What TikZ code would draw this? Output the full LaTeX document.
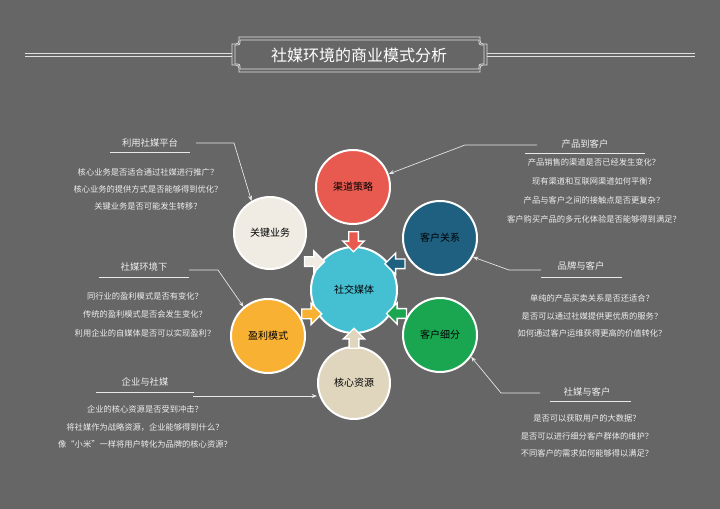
\documentclass[tikz,border=0pt]{standalone}
\usepackage{fontspec}
\setmainfont{Noto Sans CJK SC}
\usetikzlibrary{shapes.arrows,calc,arrows.meta}
\definecolor{bg}{HTML}{666666}
\definecolor{cred}{HTML}{E85A4F}
\definecolor{cblue}{HTML}{1F5F80}
\definecolor{cgreen}{HTML}{1AA550}
\definecolor{cbeige}{HTML}{E0D6BE}
\definecolor{corange}{HTML}{F8B133}
\definecolor{ccream}{HTML}{F0ECE3}
\definecolor{ccyan}{HTML}{45C0D2}
\definecolor{txt}{HTML}{EEEEEE}
\tikzset{
 bub/.style={circle,draw=white,line width=1.5pt,minimum size=55.5pt,font=\fontsize{7.5}{9}\selectfont,text=black,inner sep=0},
 barrow/.style={single arrow,draw=white,line width=1pt,minimum height=15pt,minimum width=16pt,single arrow head extend=3pt,inner sep=2pt},
 lead/.style={draw=white!85!bg,line width=0.5pt,-{Stealth[length=4pt,width=3pt]}},
 head/.style={font=\fontsize{7}{8}\selectfont,text=txt},
 q/.style={font=\fontsize{6.2}{7}\selectfont,text=txt},
 uline/.style={draw=white!85!bg,line width=0.5pt}
}
\begin{document}
\begin{tikzpicture}[x=0.75pt,y=-0.75pt]
\fill[bg] (0,0) rectangle (720,509);
\useasboundingbox (0,0) rectangle (720,509);
% title
\draw[white!80!bg,line width=0.5pt] (25,53)--(232,53) (25,56)--(232,56) (487,53)--(695,53) (487,56)--(695,56);
\foreach \o/\r in {0/7,3/5}{
\draw[white!80!bg,line width=0.6pt] ({232+\o+\r},{37+\o}) -- ({487-\o-\r},{37+\o}) .. controls ({487-\o-\r},{37+\o+\r}) .. ({487-\o},{37+\o+\r})
 -- ({487-\o},{72-\o-\r}) .. controls ({487-\o-\r},{72-\o-\r}) .. ({487-\o-\r},{72-\o})
 -- ({232+\o+\r},{72-\o}) .. controls ({232+\o+\r},{72-\o-\r}) .. ({232+\o},{72-\o-\r})
 -- ({232+\o},{37+\o+\r}) .. controls ({232+\o+\r},{37+\o+\r}) .. cycle;}
\node[font=\fontsize{12}{14}\selectfont,text=white] (title) at (359,55) {社媒环境的商业模式分析};
% bubbles
\node[bub,fill=ccyan,minimum size=64.5pt] (c) at (354,290) {社交媒体};
\node[bub,fill=cred] (o1) at (353,187) {渠道策略};
\node[bub,fill=cblue] (o2) at (440,238) {客户关系};
\node[bub,fill=cgreen] (o3) at (440,335) {客户细分};
\node[bub,fill=cbeige,minimum size=54pt] (o4) at (354,383) {核心资源};
\node[bub,fill=corange] (o5) at (268,336) {盈利模式};
\node[bub,fill=ccream,minimum size=54pt] (o6) at (270,233) {关键业务};
% block arrows
\foreach \o/\a/\col in {o1/270/cred,o2/211/cblue,o3/152/cgreen,o4/90/cbeige,o5/28/corange,o6/-34/ccream}{
 \node[barrow,fill=\col,shape border rotate=\a] (a\o) at ($(c)!38pt!(\o)$) {};}
% left groups
\node[head] (h1) at (150,143) {利用社媒平台};
\draw[uline] (110,152)--(190,152);
\coordinate (p1) at (196,143);
\draw[lead] (p1) -- (234,143) -- (o6.120);
\node[q] (q11) at (148,172) {核心业务是否适合通过社媒进行推广？};
\node[q] (q12) at (148,189) {核心业务的提供方式是否能够得到优化？};
\node[q] (q13) at (148,206) {关键业务是否可能发生转移？};

\node[head] (h2) at (144,267) {社媒环境下};
\draw[uline] (99,277)--(189,277);
\coordinate (p2) at (189,270);
\draw[lead] (p2) -- (218,270) -- (o5.130);
\node[q] (q21) at (145,296) {同行业的盈利模式是否有变化？};
\node[q] (q22) at (145,314) {传统的盈利模式是否会发生变化？};
\node[q] (q23) at (145,333) {利用企业的自媒体是否可以实现盈利？};

\node[head] (h3) at (145,382) {企业与社媒};
\draw[uline] (96,392)--(194,392);
\coordinate (p3) at (193,396);
\draw[lead] (p3) -- (o4.west|-p3);
\node[q] (q31) at (145,409) {企业的核心资源是否受到冲击？};
\node[q] (q32) at (145,427) {将社媒作为战略资源，企业能够得到什么？};
\node[q] (q33) at (145,444) {像“小米”一样将用户转化为品牌的核心资源？};
% right groups
\node[head] (h4) at (585,144) {产品到客户};
\draw[uline] (525,153)--(645,153);
\coordinate (p4) at (537,145);
\draw[lead] (p4) -- (465,145) -- (o1.20);
\node[q] (q41) at (594,162) {产品销售的渠道是否已经发生变化？};
\node[q] (q42) at (594,181) {现有渠道和互联网渠道如何平衡？};
\node[q] (q43) at (594,200) {产品与客户之间的接触点是否更复杂？};
\node[q] (q44) at (594,219) {客户购买产品的多元化体验是否能够得到满足？};

\node[head] (h5) at (581,266) {品牌与客户};
\draw[uline] (541,277)--(622,277);
\coordinate (p5) at (541,270);
\draw[lead] (p5) -- (509,270) -- (o2.-30);
\node[q] (q51) at (592,298) {单纯的产品买卖关系是否还适合？};
\node[q] (q52) at (592,316) {是否可以通过社媒提供更优质的服务？};
\node[q] (q53) at (592,333) {如何通过客户运维获得更高的价值转化？};

\node[head] (h6) at (587,392) {社媒与客户};
\draw[uline] (550,401)--(631,401);
\coordinate (p6) at (540,393);
\draw[lead] (p6) -- (501,393) -- (o3.-35);
\node[q] (q61) at (587,418) {是否可以获取用户的大数据？};
\node[q] (q62) at (587,436) {是否可以进行细分客户群体的维护？};
\node[q] (q63) at (587,453) {不同客户的需求如何能够得以满足？};
\end{tikzpicture}
\end{document}
